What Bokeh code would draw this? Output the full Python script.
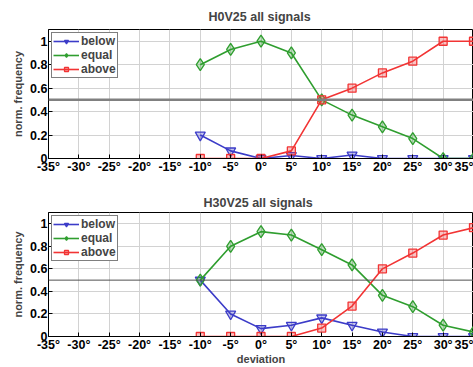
from bokeh.plotting import figure
from bokeh.models import FixedTicker, Span, Range1d
from bokeh.layouts import column
from bokeh.embed import file_html
from bokeh.resources import INLINE

# ---- data ----
deviation = [-10, -5, 0, 5, 10, 15, 20, 25, 30, 35]
x_ticks = [-35, -30, -25, -20, -15, -10, -5, 0, 5, 10, 15, 20, 25, 30, 35]
x_tick_labels = ["-35°", "-30°", "-25°", "-20°", "-15°", "-10°", "-5°", "0°",
                 "5°", "10°", "15°", "20°", "25°", "30°", "35°"]
y_ticks = [0, 0.2, 0.4, 0.6, 0.8, 1]
y_tick_labels = ["0", "0.2", "0.4", "0.6", "0.8", "1"]

h0_below = [0.20, 0.065, 0.0, 0.025, 0.0, 0.03, 0.0, 0.0, 0.0, 0.0]
h0_equal = [0.80, 0.93, 1.0, 0.90, 0.50, 0.37, 0.27, 0.17, 0.0, 0.0]
h0_above = [0.0, 0.0, 0.0, 0.065, 0.50, 0.60, 0.73, 0.83, 1.0, 1.0]

h30_below = [0.50, 0.20, 0.07, 0.10, 0.165, 0.10, 0.04, 0.0, 0.0, 0.0]
h30_equal = [0.50, 0.80, 0.93, 0.90, 0.77, 0.635, 0.365, 0.265, 0.10, 0.04]
h30_above = [0.0, 0.0, 0.0, 0.0, 0.075, 0.27, 0.60, 0.74, 0.90, 0.965]

FONT = "Liberation Sans"
BLUE = "#3c3cc8"
GREEN = "#2f9e2f"
RED = "#f23434"


def make_panel(title, below, equal, above, xlabel, height, btop, bbottom,
               toffset, tstandoff, span_color, span_width):
    p = figure(width=473, height=height, output_backend="svg",
               toolbar_location=None, x_range=Range1d(-35, 35),
               y_range=Range1d(0, 1.1), min_border_left=48,
               min_border_right=0, min_border_top=btop,
               min_border_bottom=bbottom)
    p.title.text = title
    p.title.align = "left"
    p.title.offset = toffset
    p.title.standoff = tstandoff
    p.title.text_font = FONT
    p.title.text_font_size = "12.5px"
    p.title.text_font_style = "bold"
    p.outline_line_color = "black"
    p.outline_line_width = 1
    p.outline_line_alpha = 1

    for ax in (p.xaxis[0], p.yaxis[0]):
        ax.major_tick_in = 4
        ax.major_tick_out = 0
        ax.minor_tick_line_color = None
        ax.axis_line_color = "black"
        ax.major_tick_line_color = "black"
        ax.major_label_text_font = FONT
        ax.major_label_text_font_size = "12.5px"
        ax.major_label_text_font_style = "bold"
        ax.major_label_text_color = "black"
        ax.major_label_standoff = 1
        ax.axis_label_text_font = FONT
        ax.axis_label_text_font_size = "11px"
        ax.axis_label_text_font_style = "bold"
        ax.axis_label_standoff = 3

    p.xaxis.ticker = FixedTicker(ticks=x_ticks)
    p.xaxis.major_label_overrides = dict(zip(x_ticks, x_tick_labels))
    p.yaxis.ticker = FixedTicker(ticks=y_ticks)
    p.yaxis.major_label_overrides = dict(zip(y_ticks, y_tick_labels))
    p.yaxis.axis_label = "norm. frequency"
    if xlabel:
        p.xaxis.axis_label = xlabel
        p.xaxis.axis_label_standoff = -2

    p.grid.grid_line_color = "#d2d2d2"
    p.grid.grid_line_width = 1

    p.add_layout(Span(location=0.5, dimension="width",
                      line_color=span_color, line_width=span_width))

    series = [("below", below, BLUE, "inverted_triangle", 10),
              ("equal", equal, GREEN, "diamond", 12),
              ("above", above, RED, "square", 8)]
    for name, vals, col, mk, sz in series:
        p.line(deviation, vals, line_color=col, line_width=1.6,
               legend_label=name)
        p.scatter(deviation, vals, marker=mk, size=sz, line_color=col,
                  line_width=1.3, fill_color=col, fill_alpha=0.3,
                  legend_label=name)

    lg = p.legend[0]
    lg.location = "top_left"
    lg.margin = 3
    lg.padding = 1
    lg.spacing = 0
    lg.label_height = 10
    lg.glyph_height = 10
    lg.glyph_width = 26
    lg.label_standoff = 2
    lg.label_text_font = FONT
    lg.label_text_font_size = "12px"
    lg.label_text_font_style = "bold"
    lg.border_line_color = "black"
    lg.border_line_width = 1
    lg.background_fill_alpha = 1
    return p


p1 = make_panel("H0V25 all signals", h0_below, h0_equal, h0_above, None,
                182, 29, 24, 160, 12, "#808080", 2.5)
p2 = make_panel("H30V25 all signals", h30_below, h30_equal, h30_above,
                "deviation", 185, 30, 28, 155, 5, "#505050", 1)

layout = column(p1, p2, spacing=0)
open("out.html", "w").write(file_html(layout, INLINE))
